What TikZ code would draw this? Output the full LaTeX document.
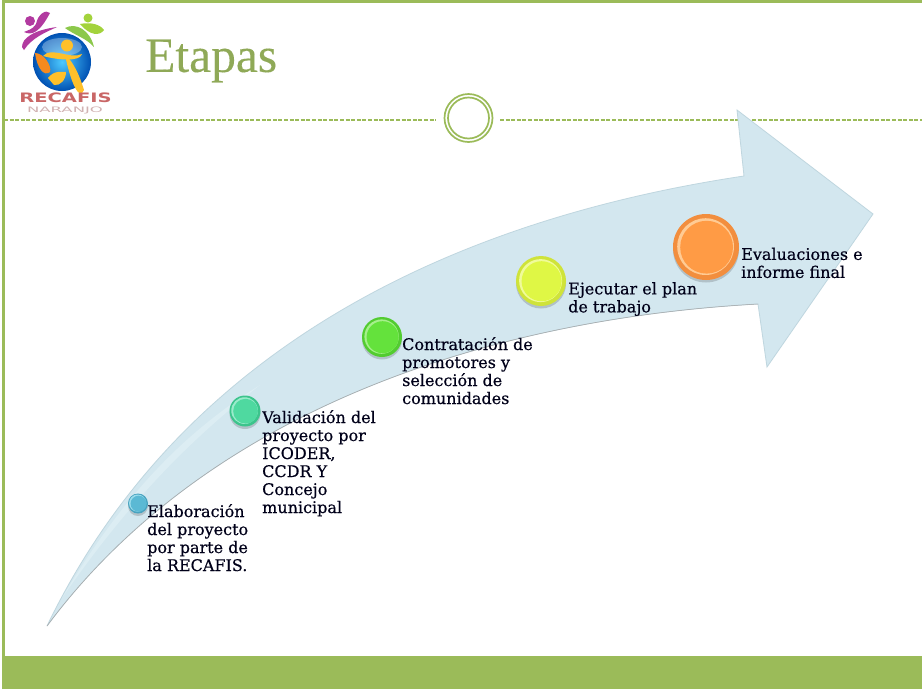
\documentclass[tikz,border=0pt]{standalone}
\usepackage{fontspec}
\setmainfont{DejaVu Serif}
\newfontfamily\labelfont{DejaVu Serif}[FakeBold=0.5]
\newfontfamily\titlefont{Liberation Serif}[FakeBold=0.2]
\newfontfamily\logofont{DejaVu Sans}
\usetikzlibrary{calc}
\definecolor{frameg}{HTML}{9BBB59}
\definecolor{titleg}{HTML}{8FA957}
\definecolor{arrowfill}{HTML}{D3E7EF}
\definecolor{arrowedge}{HTML}{BFD6DF}
\definecolor{arrowlight}{HTML}{DCEDF3}
\definecolor{logopurple}{HTML}{B23AA0}
\definecolor{logogreen}{HTML}{8CC84B}
\definecolor{logoyellow}{HTML}{FFC02A}
\definecolor{logoorange}{HTML}{F58A1F}
\tikzset{
  x=1pt,y=-1pt,
  label text/.style={anchor=north west,inner sep=0pt,align=left,text=black!90!blue,font=\labelfont\fontsize{16}{18}\selectfont},
  core/.style n args={2}{circle,inner sep=0pt,minimum size=#1,fill=#2},
  shadowdisc/.style={circle,inner sep=0pt,fill=black,fill opacity=.16}
}
\newcommand{\stepball}[7]{%
  % name, x, y, diameter, core colour, rim colour, light colour
  \definecolor{corecol}{HTML}{#5}\definecolor{rimcol}{HTML}{#6}\definecolor{lightcol}{HTML}{#7}%
  \node[shadowdisc,minimum size=#4] (#1s) at (#2,#3+2.5) {};
  \node[circle,inner sep=0pt,minimum size=#4,fill=rimcol] (#1) at (#2,#3) {};
  \node[core={#4*0.86}{lightcol}] (#1r) at (#2-.4,#3-.4) {};
  \node[core={#4*0.80}{corecol}] (#1c) at (#2+.6,#3+.2) {};
}
\begin{document}
\begin{tikzpicture}
\useasboundingbox (0,0) rectangle (922,689);
\fill[white] (0,0) rectangle (922,689);
% frame
\fill[frameg] (3,656) rectangle (922,689);
\draw[frameg,line width=2.4] (3.5,689) -- (3.5,1.5) -- (922,1.5);
% dashed rule and ring
\coordinate (ruleA) at (4,120);
\coordinate (ruleB) at (436,120);
\coordinate (ruleC) at (500,120);
\coordinate (ruleD) at (922,120);
\draw[frameg,line width=1.5,dash pattern=on 4pt off 1.6pt] (ruleA) -- (ruleB);
\draw[frameg,line width=1.5,dash pattern=on 4pt off 1.6pt] (ruleC) -- (ruleD);
\node[circle,draw=frameg,line width=1.7,minimum size=48,inner sep=0pt] (ringout) at (468.5,118) {};
\node[circle,draw=frameg,line width=1.7,minimum size=41,inner sep=0pt] (ringin) at (468.5,118) {};
% title
\node[anchor=west,inner sep=0pt,text=titleg,font=\titlefont\fontsize{49.5}{50}\selectfont] (title) at (145,61) {Etapas};
% arrow
\path[fill=arrowfill,draw=arrowedge,line width=.8,line join=miter]
  (47,626) .. controls (180,350) and (450,220) .. (744,176)
  -- (737,110) -- (873,214) -- (767,367) -- (758,304)
  .. controls (470,320) and (200,420) .. (47,626) -- cycle;
\fill[arrowlight] (62,598) .. controls (120,500) and (180,435) .. (260,385) .. controls (190,440) and (130,500) .. (62,598) -- cycle;
\draw[gray!70,line width=.5] (758,304) .. controls (470,320) and (200,420) .. (47,626);
% balls
\stepball{b1}{138}{503.5}{20}{5BB9D4}{48A3C0}{9BDCEB}
\stepball{b2}{245}{411}{31}{4FD9A0}{3CC48C}{9AEBCB}
\stepball{b3}{382}{337}{40}{64E23C}{52CC30}{A6F08C}
\stepball{b4}{541}{281}{50}{DFF745}{CFE33A}{F0FB9A}
\stepball{b5}{706}{247}{66}{FF9B45}{F28E3E}{FFCB94}
% labels
\node[label text] (t1) at (147,504) {Elaboración\\del proyecto\\por parte de\\la RECAFIS.};
\node[label text] (t2) at (262,410) {Validación del\\proyecto por\\ICODER,\\CCDR Y\\Concejo\\municipal};
\node[label text] (t3) at (402,337) {Contratación de\\promotores y\\selección de\\comunidades};
\node[label text] (t4) at (568,282) {Ejecutar el plan\\de trabajo};
\node[label text] (t5) at (741,247.5) {Evaluaciones e\\informe final};
% logo
\fill[logopurple] (22,47) .. controls (22,38) and (34,30) .. (57,27) .. controls (44,33) and (32,38) .. (24,50) -- cycle;
\fill[logopurple] (24,32) .. controls (32,36) and (40,32) .. (50,13) .. controls (46,9) and (38,14) .. (36,24) .. controls (32,30) and (28,30) .. (24,32) -- cycle;
\fill[logopurple] (30,21) circle (5);
\fill[logogreen] (65,28) .. controls (76,22) and (90,30) .. (94,47) .. controls (86,38) and (76,36) .. (65,28) -- cycle;
\fill[logogreen!80!yellow] (80,24) .. controls (90,22) and (100,24) .. (104,30) .. controls (100,36) and (90,36) .. (80,24) -- cycle;
\fill[logogreen!80!yellow] (88,18) circle (4.5);
\shade[inner color=cyan!70!blue!70,outer color=blue!55!cyan!70!black] (62,62) circle (29);
\fill[white,opacity=.3] (62,47) ellipse (20 and 9);
\fill[logoorange] (35,53) .. controls (44,53) and (52,66) .. (50,72) .. controls (44,77) and (37,68) .. (35,53) -- cycle;
\fill[logoyellow] (48,78) .. controls (54,70) and (62,72) .. (66,72) .. controls (66,80) and (60,86) .. (54,85) -- cycle;
\fill[logoyellow] (65,55) .. controls (70,58) and (78,70) .. (84,90) .. controls (80,100) and (72,88) .. (65,55) -- cycle;
\fill[logoyellow] (43,56) .. controls (52,46) and (70,60) .. (82,54) .. controls (80,62) and (58,60) .. (43,56) -- cycle;
\fill[logoyellow] (67,45.5) circle (6);
\node[inner sep=0pt,text=red!65!black!60,font=\logofont\bfseries\fontsize{13}{13}\selectfont,xscale=1.5] (logotext) at (65.5,98) {RECAFIS};
\node[inner sep=0pt,text=red!40!black!30,font=\logofont\fontsize{7.5}{8}\selectfont,xscale=2.2] (logosub) at (65,110) {NARANJO};
\end{tikzpicture}
\end{document}
